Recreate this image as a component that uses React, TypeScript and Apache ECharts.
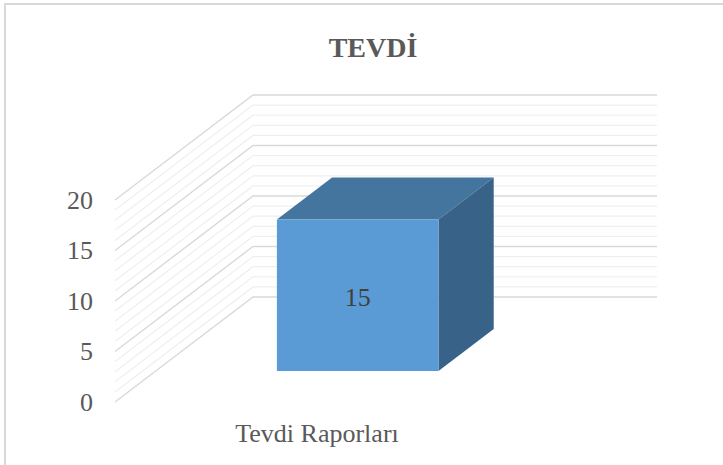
import React, { useEffect, useRef } from "react";
import * as echarts from "echarts";

const categories = ["Tevdi Raporları"];
const values = [15];
const yTickLabels = ["0", "5", "10", "15", "20"];
const Y_MIN = 0;
const Y_MAX = 20;
const Y_STEP = 5;
const MINOR_STEP = 1;

const FONT = "'Liberation Serif', 'Times New Roman', serif";
const WALL_DX = 138;
const WALL_DY = -105;
const BAR_FRAC = 0.4;
const DEPTH_FRONT = 0.295;
const DEPTH_BACK = 0.695;

export default function App() {
  const ref = useRef<HTMLDivElement>(null);
  useEffect(() => {
    if (!ref.current) return;
    const chart = echarts.init(ref.current, undefined, { renderer: "svg" });

    const wallItem = (params: any, api: any) => {
      const cs = params.coordSys;
      const children: any[] = [];
      for (let v = Y_MIN; v <= Y_MAX + 1e-9; v += MINOR_STEP) {
        const y = api.coord([0, v])[1];
        const major = Math.abs(v / Y_STEP - Math.round(v / Y_STEP)) < 1e-9;
        children.push({
          type: "polyline",
          shape: {
            points: [
              [cs.x, y],
              [cs.x + WALL_DX, y + WALL_DY],
              [cs.x + cs.width + WALL_DX, y + WALL_DY],
            ],
          },
          style: {
            fill: "none",
            stroke: major ? "#d9d9d9" : "#efefef",
            lineWidth: major ? 1.4 : 1.2,
          },
          z2: major ? 2 : 1,
        });
      }
      return { type: "group", children };
    };

    const barItem = (params: any, api: any) => {
      const idx = api.value(0);
      const val = api.value(1);
      const c = api.coord([idx, val]);
      const base = api.coord([idx, 0]);
      const w = api.size([1, 0])[0] * BAR_FRAC;
      const x0 = c[0] - w / 2 + WALL_DX * DEPTH_FRONT;
      const x1 = x0 + w;
      const yT = c[1] + WALL_DY * DEPTH_FRONT;
      const yB = base[1] + WALL_DY * DEPTH_FRONT;
      const ddx = WALL_DX * (DEPTH_BACK - DEPTH_FRONT);
      const ddy = WALL_DY * (DEPTH_BACK - DEPTH_FRONT);
      return {
        type: "group",
        children: [
          {
            type: "polygon",
            shape: {
              points: [
                [x0, yT],
                [x1, yT],
                [x1 + ddx, yT + ddy],
                [x0 + ddx, yT + ddy],
              ],
            },
            style: { fill: "#43759f" },
          },
          {
            type: "polygon",
            shape: {
              points: [
                [x1, yT],
                [x1 + ddx, yT + ddy],
                [x1 + ddx, yB + ddy],
                [x1, yB],
              ],
            },
            style: { fill: "#386288" },
          },
          {
            type: "rect",
            shape: { x: x0, y: yT, width: w, height: yB - yT },
            style: { fill: "#5b9bd5" },
          },
          {
            type: "text",
            x: x0 + w / 2,
            y: (yT + yB) / 2 + 2,
            style: {
              text: String(val),
              fill: "#404040",
              fontSize: 26,
              fontFamily: FONT,
              align: "center",
              verticalAlign: "middle",
            },
          },
        ],
      };
    };

    chart.setOption({
      animation: false,
      backgroundColor: "#ffffff",
      textStyle: { fontFamily: FONT },
      title: {
        text: "TEVDİ",
        left: 368,
        top: 28,
        textAlign: "center",
        textStyle: {
          fontSize: 28,
          fontWeight: "bold",
          fontFamily: FONT,
          color: "#595959",
        },
      },
      graphic: [
        {
          type: "rect",
          shape: { x: 5, y: 4, width: 760, height: 500 },
          style: { fill: "none", stroke: "#d9d9d9", lineWidth: 2 },
          silent: true,
        },
      ],
      grid: { left: 115, top: 200, width: 404, height: 202 },
      xAxis: {
        type: "category",
        data: categories,
        axisLine: { show: false },
        axisTick: { show: false },
        splitLine: { show: false },
        axisLabel: {
          margin: 18,
          fontSize: 26,
          fontFamily: FONT,
          color: "#595959",
        },
      },
      yAxis: {
        type: "value",
        min: Y_MIN,
        max: Y_MAX,
        interval: Y_STEP,
        axisLine: { show: false },
        axisTick: { show: false },
        splitLine: { show: false },
        axisLabel: {
          margin: 22,
          fontSize: 26,
          fontFamily: FONT,
          color: "#595959",
          padding: [7, 0, 0, 0],
          formatter: (v: number) => yTickLabels[Math.round((v - Y_MIN) / Y_STEP)] ?? String(v),
        },
      },
      series: [
        {
          type: "custom",
          name: "walls",
          renderItem: wallItem,
          data: [[0, 0]],
          clip: false,
          silent: true,
          z: 1,
        },
        {
          type: "custom",
          name: "Tevdi",
          renderItem: barItem,
          data: values.map((v, i) => [i, v]),
          clip: false,
          z: 5,
        },
      ],
    });
    return () => chart.dispose();
  }, []);
  return (
    <div
      ref={ref}
      style={{ position: "fixed", left: 0, top: 0, width: 723, height: 465 }}
    />
  );
}
